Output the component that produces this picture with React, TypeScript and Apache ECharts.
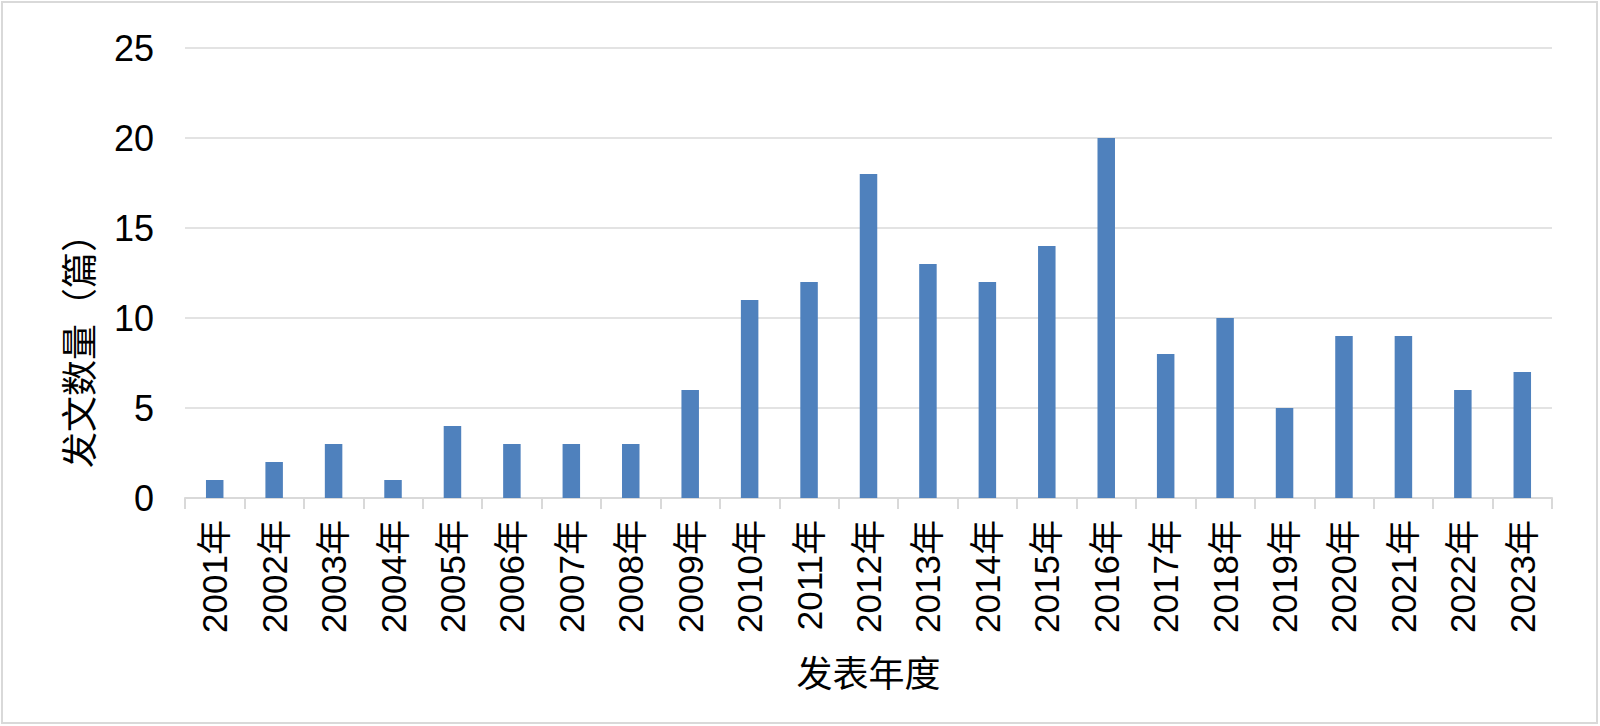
import React, { useEffect, useRef } from "react";
import * as echarts from "echarts";

const categories = ["2001年","2002年","2003年","2004年","2005年","2006年","2007年","2008年","2009年","2010年","2011年","2012年","2013年","2014年","2015年","2016年","2017年","2018年","2019年","2020年","2021年","2022年","2023年"];
const counts = [1,2,3,1,4,3,3,3,6,11,12,18,13,12,14,20,8,10,5,9,9,6,7];
const yTicks = { min: 0, max: 25, interval: 5 };
const xTitle = "发表年度";
const yTitle = "发文数量（篇）";

const FONT = '"Liberation Sans Narrow", "Liberation Sans", "Noto Sans CJK SC", sans-serif';

export default function App() {
  const ref = useRef<HTMLDivElement>(null);
  useEffect(() => {
    document.body.style.margin = "0";
    const chart = echarts.init(ref.current!, null, { renderer: "svg" });
    chart.setOption({
      animation: false,
      backgroundColor: "#ffffff",
      textStyle: { fontFamily: FONT },
      grid: { left: 185, right: 48, top: 48, bottom: 228, containLabel: false },
      xAxis: {
        type: "category",
        data: categories,
        name: xTitle,
        nameLocation: "middle",
        nameGap: 158,
        nameTextStyle: { fontSize: 36, color: "#000", fontFamily: FONT },
        axisLine: { lineStyle: { color: "#d9d9d9", width: 2 } },
        axisTick: { show: true, length: 11, lineStyle: { color: "#d9d9d9", width: 2 } },
        axisLabel: { rotate: 90, fontSize: 35, color: "#000", margin: 22, fontFamily: FONT },
      },
      yAxis: {
        type: "value",
        min: yTicks.min,
        max: yTicks.max,
        interval: yTicks.interval,
        axisLine: { show: false },
        axisTick: { show: false },
        splitLine: { lineStyle: { color: "#e3e3e3", width: 2 } },
        axisLabel: { fontSize: 36, color: "#000", margin: 31, fontFamily: FONT },
      },
      graphic: [
        {
          type: "rect",
          shape: { x: 2, y: 2, width: 1595, height: 721 },
          style: { fill: "none", stroke: "#d9d9d9", lineWidth: 2 },
          silent: true,
        },
        {
          type: "text",
          x: 80,
          y: 342,
          rotation: Math.PI / 2,
          style: {
            text: yTitle,
            fontSize: 36,
            fill: "#000",
            fontFamily: FONT,
            align: "center",
            verticalAlign: "middle",
          },
        },
      ],
      series: [
        {
          type: "bar",
          data: counts,
          barWidth: 17.5,
          itemStyle: { color: "#4f81bd" },
        },
      ],
    });
    return () => chart.dispose();
  }, []);
  return <div ref={ref} style={{ width: 1600, height: 726 }} />;
}
